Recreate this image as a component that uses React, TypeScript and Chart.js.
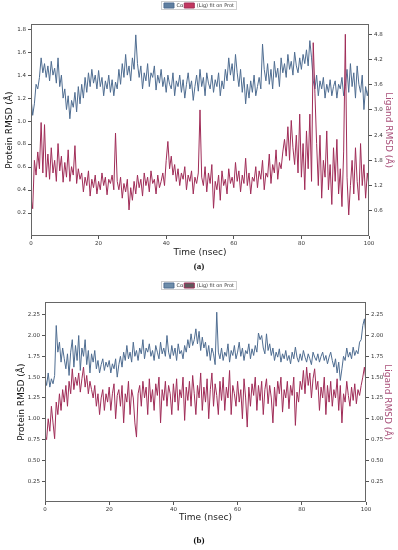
import React, { useEffect, useRef } from 'react';
import { Chart, registerables } from 'chart.js';
Chart.register(...registerables);

const FONT = 'DejaVu Sans';

const timeTicks = [0, 20, 40, 60, 80, 100];

// Panel (a): protein Cα RMSD (left axis) and ligand RMSD (right axis), sampled every 0.5 ns
const proteinA = [
  1.20, 1.05, 1.15, 1.32, 1.28, 1.38, 1.55, 1.42, 1.50, 1.38,
  1.48, 1.35, 1.52, 1.40, 1.46, 1.33, 1.55, 1.30, 1.40, 1.20,
  1.28, 1.10, 1.22, 1.02, 1.18, 1.12, 1.25, 1.08, 1.30, 1.15,
  1.32, 1.20, 1.38, 1.25, 1.42, 1.30, 1.45, 1.33, 1.40, 1.28,
  1.44, 1.30, 1.38, 1.22, 1.35, 1.28, 1.40, 1.25, 1.36, 1.22,
  1.34, 1.28, 1.45, 1.32, 1.50, 1.38, 1.58, 1.40, 1.48, 1.35,
  1.55, 1.45, 1.75, 1.50, 1.38, 1.48, 1.28, 1.42, 1.35, 1.50,
  1.30, 1.42, 1.38, 1.48, 1.27, 1.40, 1.33, 1.45, 1.30, 1.38,
  1.25, 1.40, 1.32, 1.28, 1.42, 1.22, 1.35, 1.30, 1.40, 1.25,
  1.36, 1.20, 1.32, 1.42, 1.28, 1.35, 1.18, 1.30, 1.40, 1.26,
  1.45, 1.30, 1.38, 1.22, 1.42, 1.33, 1.28, 1.40, 1.25, 1.36,
  1.30, 1.42, 1.22, 1.35, 1.28, 1.45, 1.35, 1.55, 1.40, 1.50,
  1.35, 1.58, 1.42, 1.30, 1.45, 1.25, 1.38, 1.15, 1.32, 1.20,
  1.35, 1.25, 1.40, 1.22, 1.30, 1.38, 1.28, 1.67, 1.45, 1.35,
  1.50, 1.32, 1.45, 1.28, 1.52, 1.38, 1.46, 1.30, 1.55, 1.42,
  1.50, 1.38, 1.58, 1.45, 1.52, 1.40, 1.60, 1.48, 1.42, 1.55,
  1.45, 1.58, 1.50, 1.62, 1.48, 1.70, 1.55, 1.35, 1.28, 1.40,
  1.22, 1.35, 1.28, 1.38, 1.20, 1.32, 1.25, 1.36, 1.22, 1.30,
  1.35, 1.20, 1.32, 1.28, 1.38, 1.22, 1.30, 1.45, 1.25, 1.50,
  1.30, 1.42, 1.20, 1.48, 1.32, 1.25, 1.40, 1.10, 1.30, 1.22,
  1.30,
];
const ligandA = [
  0.90, 0.65, 1.80, 1.45, 2.00, 1.60, 2.70, 1.50, 2.65, 1.40,
  1.95, 1.35, 2.10, 1.50, 1.80, 1.30, 2.20, 1.55, 1.90, 1.28,
  1.75, 1.40, 2.05, 1.30, 1.65, 1.45, 2.15, 1.25, 1.60, 1.35,
  1.50, 1.05, 1.40, 1.20, 1.55, 0.95, 1.35, 1.15, 1.45, 1.00,
  1.30, 1.10, 1.50, 1.20, 1.40, 0.98, 1.35, 1.25, 1.45, 1.10,
  2.45, 1.30, 1.10, 1.40, 0.90, 1.25, 1.05, 1.35, 0.62, 1.15,
  0.85, 1.30, 1.00, 1.45, 1.15, 1.35, 0.95, 1.50, 1.20, 1.40,
  1.05, 1.55, 1.25, 1.35, 1.00, 1.45, 1.15, 1.30, 1.50, 1.20,
  1.80, 2.25, 1.60, 1.90, 1.45, 1.70, 1.30, 1.60, 1.20, 1.50,
  1.35, 1.65, 1.10, 1.45, 1.30, 1.55, 1.00, 1.40, 1.25, 1.50,
  3.00, 1.40, 1.20, 1.65, 1.05, 1.50, 1.25, 1.70, 0.66, 1.30,
  1.10, 1.45, 0.85, 1.55, 1.20, 1.35, 1.00, 1.60, 1.25, 1.40,
  1.15, 1.75, 1.30, 1.55, 1.05, 1.45, 1.25, 1.85, 1.20, 1.50,
  1.00, 1.40, 1.30, 1.65, 1.15, 1.55, 1.35, 1.80, 1.10, 1.50,
  1.40, 1.95, 1.25, 1.70, 1.50, 2.05, 1.35, 1.75, 1.60, 2.00,
  2.30, 1.90, 2.60, 1.80, 2.75, 2.10, 1.70, 2.40, 1.50, 2.90,
  1.40, 2.20, 1.10, 2.50, 1.60, 2.90, 1.30, 4.60, 3.40, 2.20,
  1.20, 2.40, 0.90, 1.80, 1.40, 2.50, 1.10, 1.70, 0.75, 2.10,
  1.30, 2.30, 1.00, 1.60, 0.70, 2.00, 4.80, 1.40, 0.50, 1.20,
  1.80, 1.00, 2.10, 1.30, 0.85, 2.20, 1.20, 1.70, 0.90, 1.50,
  1.20,
];

// Panel (b)
const proteinB = [
  1.50, 1.40, 1.55, 1.38, 1.48, 1.42, 1.52, 2.12, 1.80, 1.92,
  1.68, 1.85, 1.72, 1.60, 1.78, 1.52, 1.80, 1.95, 1.62, 1.88,
  1.70, 2.00, 1.58, 1.85, 1.75, 1.95, 1.65, 1.82, 1.55, 1.78,
  1.68, 1.82, 1.60, 1.70, 1.55, 1.65, 1.72, 1.58, 1.68, 1.62,
  1.70, 1.55, 1.66, 1.60, 1.72, 1.50, 1.65, 1.75, 1.62, 1.80,
  1.70, 1.88, 1.72, 1.80, 1.68, 1.92, 1.75, 1.82, 1.70, 1.85,
  1.78, 1.95, 1.72, 1.85, 1.80, 1.90, 1.75, 1.82, 1.70, 1.88,
  1.80, 1.72, 1.92, 1.78, 1.85, 1.75, 2.00, 1.80, 1.72, 1.88,
  1.76, 1.85, 1.70, 1.90, 1.78, 1.82, 1.72, 1.88, 1.80, 1.95,
  1.85, 2.02, 1.88, 1.95, 2.08, 1.90, 2.05, 1.82, 1.98, 1.85,
  1.92, 1.75, 1.88, 1.70, 1.85, 1.78, 1.65, 2.28, 1.80, 1.72,
  1.85, 1.70, 1.80, 1.75, 1.90, 1.68, 1.82, 1.76, 1.88, 1.72,
  1.80, 1.92, 1.75, 1.85, 1.70, 1.82, 1.78, 1.90, 1.72, 1.84,
  1.76, 1.88, 1.80, 2.03, 1.95, 2.00, 1.85, 1.78, 2.02, 1.82,
  1.90, 1.76, 1.85, 1.70, 1.80, 1.74, 1.84, 1.68, 1.78, 1.72,
  1.82, 1.70, 1.76, 1.66, 1.80, 1.72, 1.86, 1.74, 1.68, 1.78,
  1.70, 1.82, 1.74, 1.68, 1.78, 1.72, 1.65, 1.80, 1.74, 1.70,
  1.78, 1.68, 1.75, 1.80, 1.70, 1.76, 1.66, 1.74, 1.80, 1.70,
  1.62, 1.72, 1.55, 1.68, 1.46, 1.60, 1.75, 1.70, 1.85, 1.74,
  1.80, 1.72, 1.86, 1.76, 1.82, 1.78, 1.92, 1.95, 2.12, 2.20,
  2.00,
];
const ligandB = [
  0.80, 0.75, 1.00, 0.85, 1.15, 0.95, 0.76, 1.20, 1.05, 1.30,
  1.10, 1.35, 1.20, 1.40, 1.15, 1.45, 1.30, 1.60, 1.35, 1.50,
  1.40, 1.55, 1.32, 1.48, 1.62, 1.38, 1.52, 1.30, 1.45, 1.35,
  1.25, 1.40, 1.15, 1.30, 1.05, 1.25, 1.35, 1.10, 1.30, 1.20,
  1.38, 1.10, 1.30, 1.42, 1.00, 1.28, 1.35, 1.15, 1.40, 0.95,
  1.30, 1.20, 1.45, 1.05, 1.35, 1.25, 0.95, 0.78, 1.30, 1.40,
  1.15, 1.45, 1.25, 1.38, 1.05, 1.48, 1.20, 1.35, 1.10, 1.42,
  1.28, 1.50, 0.95, 1.35, 1.22, 1.45, 1.15, 1.40, 1.30, 1.05,
  1.42, 1.20, 1.48, 1.10, 1.35, 1.25, 1.50, 0.98, 1.38, 1.22,
  1.45, 1.15, 1.52, 1.30, 1.05, 1.40, 1.25, 1.55, 1.10, 1.38,
  1.20, 1.48, 1.00, 1.35, 1.55, 1.15, 1.42, 1.28, 1.05, 1.45,
  1.22, 1.50, 1.10, 1.38, 1.25, 1.58, 1.05, 1.40, 1.30, 1.15,
  1.45, 1.20, 1.35, 1.00, 1.48, 1.25, 0.90, 1.38, 1.15, 1.42,
  1.28, 1.50, 1.10, 1.40, 1.22, 1.45, 1.05, 1.35, 1.48, 1.18,
  1.40, 1.25, 0.95, 1.38, 1.15, 1.45, 1.30, 1.50, 1.08, 1.35,
  1.25, 1.45, 1.12, 1.40, 1.28, 1.50, 0.92, 1.32, 1.20, 1.45,
  1.35, 1.58, 1.30, 1.62, 1.40, 1.55, 1.25, 1.48, 1.60, 1.35,
  1.45, 1.10, 1.38, 1.25, 1.50, 1.05, 1.40, 1.20, 1.45, 1.15,
  1.35, 1.25, 1.48, 1.10, 1.40, 0.95, 1.30, 1.20, 1.45, 1.28,
  1.15, 1.38, 1.22, 1.42, 1.18, 1.35, 1.28, 1.40, 1.50, 1.62,
  1.45,
];

const leftTicksA = [0.2, 0.4, 0.6, 0.8, 1.0, 1.2, 1.4, 1.6, 1.8];
const rightTicksA = [0.6, 1.2, 1.8, 2.4, 3.0, 3.6, 4.2, 4.8];
const ticksB = [0.25, 0.5, 0.75, 1.0, 1.25, 1.5, 1.75, 2.0, 2.25];

const legendLabels = ['Cα', '(Lig) fit on Prot'];

const PROT_COLOR = '#4f6d91';
const LIG_COLOR = '#a02d58';
const LIG_TITLE = '#a9507a';

function toPoints(arr: number[]) {
  return arr.map((v, i) => ({ x: (i * 100) / (arr.length - 1), y: v }));
}

const framePlugin = {
  id: 'frame',
  afterDraw(chart: any) {
    const { ctx, chartArea: a } = chart;
    ctx.save();
    ctx.strokeStyle = '#666';
    ctx.lineWidth = 1;
    ctx.strokeRect(Math.round(a.left) + 0.5, Math.round(a.top) + 0.5, Math.round(a.right - a.left) - 1, Math.round(a.bottom - a.top) - 1);
    const lg = chart.legend;
    if (lg && lg.legendHitBoxes && lg.legendHitBoxes.length) {
      let l = Infinity, t = Infinity, r = -Infinity, b = -Infinity;
      lg.legendHitBoxes.forEach((h: any) => {
        l = Math.min(l, h.left); t = Math.min(t, h.top);
        r = Math.max(r, h.left + h.width); b = Math.max(b, h.top + h.height);
      });
      ctx.strokeStyle = '#cfcfcf';
      ctx.strokeRect(Math.round(l) - 2.5, Math.round(t) - 1.5, Math.round(r - l) + 5, Math.round(b - t) + 3);
    }
    ctx.restore();
  },
};

function yScale(opts: {
  position: 'left' | 'right'; min: number; max: number; ticks: number[]; dec: number;
  title: string; titleColor: string; width: number; titlePad: number;
}) {
  return {
    type: 'linear' as const,
    position: opts.position,
    min: opts.min,
    max: opts.max,
    afterBuildTicks: (s: any) => { s.ticks = opts.ticks.map((v) => ({ value: v })); },
    afterFit: (s: any) => { s.width = opts.width; },
    grid: { drawOnChartArea: false, drawTicks: true, tickLength: 3, color: '#555' },
    border: { display: false },
    ticks: {
      autoSkip: false,
      font: { family: FONT, size: 5.5 },
      color: '#333',
      padding: 2,
      callback: (v: any) => Number(v).toFixed(opts.dec),
    },
    title: {
      display: true,
      text: opts.title,
      color: opts.titleColor,
      font: { family: FONT, size: 9 },
      padding: { top: opts.titlePad, bottom: 0 },
    },
  };
}

function xScale(height: number, titlePadBottom: number) {
  return {
    type: 'linear' as const,
    position: 'bottom' as const,
    min: 0,
    max: 100,
    afterBuildTicks: (s: any) => { s.ticks = timeTicks.map((v) => ({ value: v })); },
    afterFit: (s: any) => { s.height = height; },
    grid: { drawOnChartArea: false, drawTicks: true, tickLength: 3, color: '#555' },
    border: { display: false },
    ticks: { autoSkip: false, maxRotation: 0, font: { family: FONT, size: 5.5 }, color: '#333', padding: 1 },
    title: {
      display: true,
      text: 'Time (nsec)',
      color: '#222',
      font: { family: FONT, size: 9 },
      padding: { top: 0, bottom: titlePadBottom },
    },
  };
}

function Panel(props: {
  prot: number[]; lig: number[]; legendColors: string[];
  left: any; right: any; xHeight: number; xTitlePad: number;
  topPad: number; gap: number; width: number; height: number;
}) {
  const ref = useRef<HTMLCanvasElement>(null);
  useEffect(() => {
    if (!ref.current) return;
    const chart = new Chart(ref.current, {
      type: 'line',
      data: {
        datasets: [
          {
            label: legendLabels[0],
            data: toPoints(props.prot),
            borderColor: PROT_COLOR,
            backgroundColor: props.legendColors[0],
            borderWidth: 1,
            pointRadius: 0,
            tension: 0,
            yAxisID: 'y',
            order: 1,
          },
          {
            label: legendLabels[1],
            data: toPoints(props.lig),
            borderColor: LIG_COLOR,
            backgroundColor: props.legendColors[1],
            borderWidth: 1,
            pointRadius: 0,
            tension: 0,
            yAxisID: 'y1',
            order: 0,
          },
        ],
      },
      options: {
        responsive: false,
        animation: false,
        devicePixelRatio: 1,
        layout: { padding: { top: props.topPad, left: 0, right: 0, bottom: 0 } },
        scales: {
          x: xScale(props.xHeight, props.xTitlePad),
          y: props.left,
          y1: props.right,
        },
        plugins: {
          legend: {
            display: true,
            position: 'top',
            labels: {
              boxWidth: 10,
              boxHeight: 5,
              padding: 1,
              color: '#333',
              font: { family: FONT, size: 5 },
              sort: (a: any, b: any) => a.datasetIndex - b.datasetIndex,
            },
          },
          title: {
            display: true,
            text: '',
            weight: 500,
            font: { size: 1 },
            padding: { top: props.gap, bottom: 0 },
          } as any,
          tooltip: { enabled: false },
        },
      },
      plugins: [framePlugin],
    });
    return () => chart.destroy();
  }, []);
  return <canvas ref={ref} width={props.width} height={props.height} style={{ width: props.width, height: props.height, display: 'block' }} />;
}

export default function App() {
  const capStyle: React.CSSProperties = {
    position: 'absolute', left: 0, width: 398, textAlign: 'center',
    fontFamily: '"Liberation Serif", serif', fontWeight: 'bold', fontSize: 9, lineHeight: '12px', color: '#111',
  };
  return (
    <div style={{ position: 'absolute', left: 0, top: 0, width: 398, height: 550, background: '#fff' }}>
      <div style={{ position: 'absolute', left: 0, top: 0 }}>
        <Panel
          prot={proteinA}
          lig={ligandA}
          legendColors={['#5f7fa0', '#c2375f']}
          left={yScale({ position: 'left', min: 0, max: 1.843, ticks: leftTicksA, dec: 1, title: 'Protein RMSD (Å)', titleColor: '#111', width: 31, titlePad: 4 })}
          right={yScale({ position: 'right', min: 0, max: 5.04, ticks: rightTicksA, dec: 1, title: 'Ligand RMSD (Å)', titleColor: LIG_TITLE, width: 29, titlePad: 4 })}
          xHeight={26}
          xTitlePad={4}
          topPad={2}
          gap={5}
          width={398}
          height={262}
        />
      </div>
      <div style={{ ...capStyle, top: 260 }}>(a)</div>
      <div style={{ position: 'absolute', left: 0, top: 276 }}>
        <Panel
          prot={proteinB}
          lig={ligandB}
          legendColors={['#6d8daa', '#5e5a5c']}
          left={yScale({ position: 'left', min: 0, max: 2.4, ticks: ticksB, dec: 2, title: 'Protein RMSD (Å)', titleColor: '#111', width: 45, titlePad: 16 })}
          right={yScale({ position: 'right', min: 0, max: 2.4, ticks: ticksB, dec: 2, title: 'Ligand RMSD (Å)', titleColor: LIG_TITLE, width: 32, titlePad: 5 })}
          xHeight={26}
          xTitlePad={5}
          topPad={6}
          gap={3}
          width={398}
          height={252}
        />
      </div>
      <div style={{ ...capStyle, top: 534 }}>(b)</div>
    </div>
  );
}
